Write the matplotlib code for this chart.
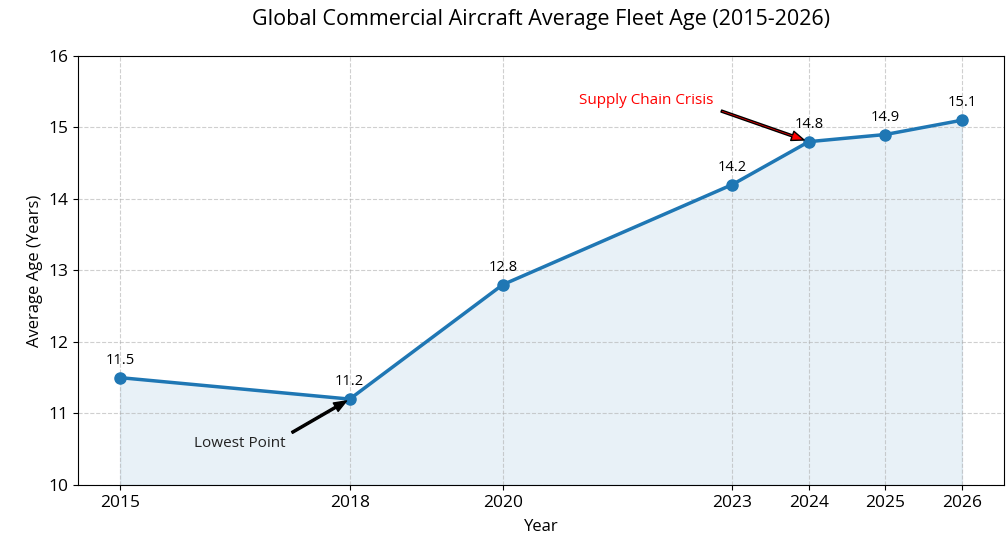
import matplotlib.pyplot as plt

# fleet age data
years = [2015, 2018, 2020, 2023, 2024, 2025, 2026]
avg_age = [11.5, 11.2, 12.8, 14.2, 14.8, 14.9, 15.1]

plt.rcParams['font.family'] = ['Open Sans', 'DejaVu Sans']

fig = plt.figure(figsize=(10.07, 5.37), dpi=100)
ax = fig.add_axes([0.0775, 0.097, 0.9195, 0.799])

ax.plot(years, avg_age, color='#1f77b4', linewidth=2.5, marker='o', markersize=8)
ax.fill_between(years, avg_age, 10, color='#1f77b4', alpha=0.1)

# value labels above each point
for x, y in zip(years, avg_age):
    ax.annotate(f'{y}', (x, y), textcoords='offset points', xytext=(0, 10),
                ha='center', fontsize=10.5)

ax.annotate('Lowest Point', xy=(2018, 11.2), xytext=(2016.57, 10.58),
            fontsize=11, color='#222222', ha='center', va='center',
            arrowprops=dict(facecolor='black', shrink=0.05, width=1.5,
                            headwidth=7, headlength=9))
ax.annotate('Supply Chain Crisis', xy=(2024, 14.8), xytext=(2021.88, 15.37),
            fontsize=11, color='red', ha='center', va='center',
            arrowprops=dict(facecolor='red', shrink=0.05, width=1.5,
                            headwidth=7, headlength=9))

ax.set_title('Global Commercial Aircraft Average Fleet Age (2015-2026)', fontsize=15.5, pad=22)
ax.set_xlabel('Year', fontsize=12, labelpad=6)
ax.set_ylabel('Average Age (Years)', fontsize=12)
ax.set_xticks(years)
ax.set_ylim(10, 16)
ax.tick_params(labelsize=12.5)
ax.grid(True, linestyle='--', alpha=0.6)

fig.savefig('out.png', dpi=100)
